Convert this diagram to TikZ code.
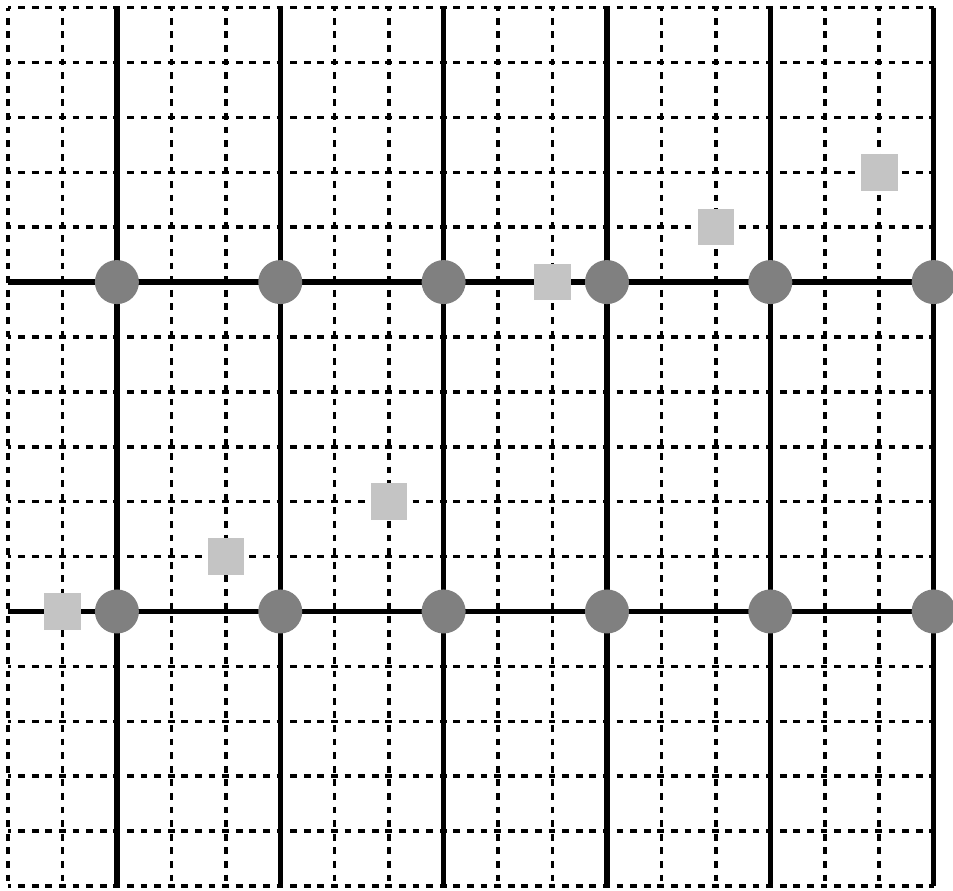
\documentclass[tikz,border=0pt]{standalone}
\begin{document}
\begin{tikzpicture}[x=27.225pt,y=27.45pt,
  dotline/.style={line width=1.75pt, dash pattern=on 3.4pt off 3.4pt, dash phase=1.7pt},
  solidline/.style={line width=2.75pt},
  dotnode/.style={circle, fill=black!50, minimum size=22pt, inner sep=0pt},
  sqnode/.style={rectangle, fill=black!23, minimum size=18.3pt, inner sep=0pt}]
\useasboundingbox (-0.147,-0.073) rectangle (17.355,16.138);
% dotted grid
\foreach \i in {0,...,17} {\draw[dotline] (\i,16) -- (\i,0);}
\foreach \j in {0,...,16} {\draw[dotline] (0,\j) -- (17,\j);}
% solid lines
\foreach \i in {2,5,8,11,14,17} {\draw[solidline] (\i,16) -- (\i,0);}
\foreach \j in {5,11} {\draw[solidline] (0,\j) -- (17,\j);}
% circles
\foreach \i in {2,5,8,11,14,17} {
  \foreach \j in {5,11} {\node[dotnode] (c-\i-\j) at (\i,\j) {};}
}
% squares
\node[sqnode] (s1) at (1,5) {};
\node[sqnode] (s2) at (4,6) {};
\node[sqnode] (s3) at (7,7) {};
\node[sqnode] (s4) at (10,11) {};
\node[sqnode] (s5) at (13,12) {};
\node[sqnode] (s6) at (16,13) {};
\end{tikzpicture}
\end{document}
